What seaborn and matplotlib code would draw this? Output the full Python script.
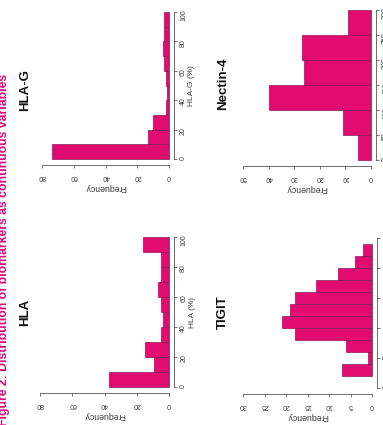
import matplotlib
matplotlib.use("Agg")
import matplotlib.pyplot as plt
import seaborn as sns

# histogram bins and counts (bottom bin first)
hla_bins = [0, 10, 20, 30, 40, 50, 60, 70, 80, 90, 100]
hla_counts = [37, 9, 15, 5, 4, 5, 7, 5, 5, 16]

hlag_bins = [0, 10, 20, 30, 40, 50, 60, 70, 80, 90, 100]
hlag_counts = [74, 13, 10, 2, 1, 2, 3, 4, 3, 3]

nectin_bins = [0, 50, 100, 150, 200, 250, 300]
nectin_counts = [5, 11, 40, 26, 27, 9]

tigit_bins = [2, 4, 6, 8, 10, 12, 14, 16, 18, 20, 22, 24]
tigit_counts = [7, 1, 6, 18, 21, 19, 18, 13, 8, 4, 2]

pct_ticks = [0, 20, 40, 60, 80, 100]
nectin_ticks = [0, 50, 100, 150, 200, 250, 300]
tigit_ticks = [0, 5, 10, 15, 20, 25]
freq_ticks_hla = [0, 20, 40, 60, 80]
freq_ticks_nectin = [0, 10, 20, 30, 40, 50]
freq_ticks_tigit = [0, 5, 10, 15, 20, 25, 30]

PINK = "#E20C70"
EDGE = "#8a1556"
TXT = "#3a3a3a"

sns.set_theme(style="white")
plt.rcParams['font.family'] = ['Liberation Sans', 'DejaVu Sans']

W, H = 383, 425
fig = plt.figure(figsize=(W / 100, H / 100), dpi=100)
fig.patch.set_facecolor("white")


def panel(bins, counts, title, xlab, vticks, fticks, f0, fmax_px, v0, vmax_px, title_x, title_y):
    # the page is turned a quarter, so bars run right-to-left and the value axis sits on the right
    fspan = f0 - fmax_px
    vspan = v0 - vmax_px
    left = fmax_px - 0.04 * fspan
    right = f0 + 0.04 * fspan
    top = vmax_px - 0.04 * vspan
    bottom = v0 + 0.04 * vspan
    ax = fig.add_axes([left / W, 1 - bottom / H, (right - left) / W, (bottom - top) / H])
    ax.set_facecolor("none")

    mids = [(a + b) / 2 for a, b in zip(bins[:-1], bins[1:])]
    sns.histplot(y=mids, weights=counts, bins=bins, ax=ax, color=PINK, alpha=1,
                 edgecolor=EDGE, linewidth=0.5)

    fmax = fticks[-1]
    vmin, vmax = vticks[0], vticks[-1]
    ax.set_xlim(1.04 * fmax, -0.04 * fmax)
    dv = 0.04 * (vmax - vmin)
    ax.set_ylim(vmin - dv, vmax + dv)

    for s in ["left", "top"]:
        ax.spines[s].set_visible(False)
    ax.spines["right"].set_bounds(vmin, vmax)
    ax.spines["bottom"].set_bounds(0, fmax)
    for s in ["right", "bottom"]:
        ax.spines[s].set_linewidth(0.6)
        ax.spines[s].set_color("#555555")

    ax.yaxis.tick_right()
    ax.yaxis.set_label_position("right")
    ax.set_yticks(vticks)
    ax.set_xticks(fticks)
    ax.tick_params(axis="y", which="both", right=True, left=False, labelrotation=90,
                   labelsize=5, length=2.5, width=0.5, pad=1.8, colors=TXT)
    ax.tick_params(axis="x", which="both", bottom=True, labelrotation=180,
                   labelsize=5, length=2.5, width=0.5, pad=3, colors=TXT)
    ax.grid(False)

    ax.set_ylabel(xlab, rotation=90, fontsize=6, labelpad=1, color=TXT)
    ax.set_xlabel("Frequency", rotation=180, fontsize=6.3, labelpad=2.5, color=TXT)

    fig.text(title_x / W, 1 - title_y / H, title, rotation=90,
             ha="center", va="center", fontsize=9.5, fontweight="bold", color="#111111")
    return ax


panel(hlag_bins, hlag_counts, "HLA-G", "HLA-G (%)", pct_ticks, freq_ticks_hla,
      169, 42, 159, 12, 25, 90)
panel(hla_bins, hla_counts, "HLA", "HLA (%)", pct_ticks, freq_ticks_hla,
      169, 40, 387, 237, 25, 312)
panel(nectin_bins, nectin_counts, "Nectin-4", "Nectin-4", nectin_ticks, freq_ticks_nectin,
      371, 243, 160, 10, 223, 84)
panel(tigit_bins, tigit_counts, "TIGIT", "TIGIT", tigit_ticks, freq_ticks_tigit,
      372, 243, 388, 238, 223, 312)

fig.text(10 / W, 1 - 426 / H, "Figure 2: Distribution of biomarkers as continuous variables",
         rotation=90, ha="right", va="bottom", fontsize=8.8, fontweight="bold", color="#E6007E")

fig.savefig("out.png", dpi=100)
